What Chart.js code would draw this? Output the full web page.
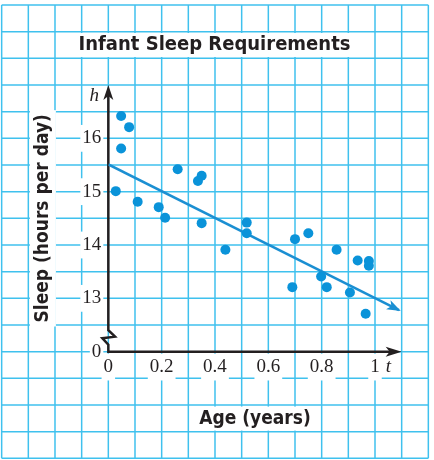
<!DOCTYPE html>
<html><head><meta charset="utf-8">
<script src="https://cdn.jsdelivr.net/npm/chart.js@4.4.1/dist/chart.umd.min.js"></script>
<style>html,body{margin:0;padding:0;background:#fff;overflow:hidden;} #wrap{width:434px;height:460px;position:relative;}</style>
</head><body><div id="wrap"><canvas id="c"></canvas></div>
<script>
// ---- data ----
const ageYears   = [0.048,0.078,0.048,0.260,0.350,0.336,0.028,0.110,0.189,0.213,0.350,0.519,0.519,0.439,0.700,0.750,0.856,0.935,0.977,0.977,0.798,0.819,0.690,0.906,0.965];
const sleepHours = [16.42,16.21,15.81,15.42,15.30,15.20,15.01,14.81,14.71,14.51,14.41,14.42,14.22,13.91,14.11,14.22,13.91,13.71,13.70,13.61,13.41,13.21,13.21,13.11,12.71];
const fitAge   = [0, 1.09];
const fitSleep = [15.51, 12.78];
const xTickValues = [0, 0.2, 0.4, 0.6, 0.8, 1];
const xTickLabels = ['0', '0.2', '0.4', '0.6', '0.8', '1'];
const yTickValues = [12, 13, 14, 15, 16];
const yTickLabels = ['0', '13', '14', '15', '16'];
const chartTitle = 'Infant Sleep Requirements';
const xTitle = 'Age (years)';
const yTitle = 'Sleep (hours per day)';
const xVar = 't', yVar = 'h';

// ---- styles ----
const INK = '#231f20';
const GRID = '#3fc1ee';
const DOT = '#0a93d9';
const FIT = '#1b8fd2';
const BOLD = "'Liberation Sans Narrow','DejaVu Sans Condensed','Arial Narrow',sans-serif";
const SERIF = "'Liberation Serif','DejaVu Serif',serif";

const scatterData = ageYears.map((a, i) => ({x: a, y: sleepHours[i]}));
const fitData = fitAge.map((a, i) => ({x: a, y: fitSleep[i]}));

function arrowHead(ctx, tx, ty, ang, len, hw, notch) {
  ctx.save();
  ctx.translate(tx, ty); ctx.rotate(ang);
  ctx.beginPath();
  ctx.moveTo(0, 0);
  ctx.lineTo(-len, -hw);
  ctx.lineTo(-len + notch, 0);
  ctx.lineTo(-len, hw);
  ctx.closePath();
  ctx.fill();
  ctx.restore();
}

const paper = {
  id: 'paper',
  beforeDraw(chart) {
    const {ctx} = chart;
    const xs = chart.scales.x, ys = chart.scales.y;
    ctx.save();
    ctx.fillStyle = '#fff';
    ctx.fillRect(0, 0, chart.width, chart.height);
    ctx.strokeStyle = GRID;
    ctx.lineWidth = 1.5;
    const top = ys.getPixelForValue(18.5), bot = ys.getPixelForValue(10);
    const left = xs.getPixelForValue(-0.4), right = xs.getPixelForValue(1.2);
    for (let k = -4; k <= 12; k++) {
      const px = xs.getPixelForValue(k / 10);
      ctx.beginPath(); ctx.moveTo(px, top); ctx.lineTo(px, bot); ctx.stroke();
    }
    for (let k = 20; k <= 37; k++) {
      const py = ys.getPixelForValue(k / 2);
      ctx.beginPath(); ctx.moveTo(left, py); ctx.lineTo(right, py); ctx.stroke();
    }
    // white backings behind titles
    ctx.fillStyle = '#fff';
    const t = chart.options.plugins.title;
    const tb = chart.titleBlock;
    ctx.font = 'bold ' + t.font.size + 'px ' + BOLD;
    let w = ctx.measureText(chartTitle).width;
    const tcx = (tb.left + tb.right) / 2;
    const tcy = tb.top + t.padding.top + t.font.size * t.font.lineHeight / 2;
    ctx.fillRect(tcx - w / 2 - 5, tcy - 12, w + 10, 24);
    const yt = chart.options.scales.y.title;
    ctx.font = 'bold ' + yt.font.size + 'px ' + BOLD;
    w = ctx.measureText(yTitle).width;
    const ycx = ys.left + yt.padding.top + yt.font.size * yt.font.lineHeight / 2;
    const ycy = (ys.top + ys.bottom) / 2;
    ctx.fillRect(ycx - 13, ycy - w / 2 - 4, 26, w + 8);
    const xt = chart.options.scales.x.title;
    ctx.font = 'bold ' + xt.font.size + 'px ' + BOLD;
    w = ctx.measureText(xTitle).width;
    const xcx = (xs.left + xs.right) / 2;
    const xcy = xs.bottom - xt.padding.bottom - xt.font.size * xt.font.lineHeight / 2;
    ctx.fillRect(xcx - w / 2 - 4, xcy - 12, w + 8, 24);
    ctx.restore();
  },
  beforeDatasetsDraw(chart) {
    const {ctx} = chart;
    const xs = chart.scales.x, ys = chart.scales.y;
    const x0 = xs.getPixelForValue(0), yb = ys.getPixelForValue(12);
    const yTop = ys.getPixelForValue(17), xEnd = xs.getPixelForValue(1.1);
    ctx.save();
    ctx.strokeStyle = INK; ctx.fillStyle = INK;
    ctx.lineWidth = 2.5; ctx.lineJoin = 'miter';
    ctx.beginPath();
    ctx.moveTo(x0, yTop + 8);
    ctx.lineTo(x0, yb - 21.5);
    ctx.lineTo(x0 + 6.7, yb - 15);
    ctx.lineTo(x0 - 6, yb - 13.5);
    ctx.lineTo(x0, yb - 7);
    ctx.lineTo(x0, yb);
    ctx.lineTo(xEnd - 8, yb);
    ctx.stroke();
    arrowHead(ctx, x0, yTop, -Math.PI / 2, 15, 5, 4);
    arrowHead(ctx, xEnd, yb, 0, 16, 5, 4);
    ctx.font = 'italic 19px ' + SERIF;
    ctx.textAlign = 'center'; ctx.textBaseline = 'middle';
    ctx.fillText(yVar, x0 - 14, yTop + 11);
    ctx.fillText(xVar, xs.getPixelForValue(1.05), yb + 15);
    ctx.restore();
  },
  afterDatasetsDraw(chart) {
    const meta = chart.getDatasetMeta(1);
    const pts = meta.data;
    const a = pts[pts.length - 2], b = pts[pts.length - 1];
    const ang = Math.atan2(b.y - a.y, b.x - a.x);
    chart.ctx.save();
    chart.ctx.fillStyle = FIT;
    arrowHead(chart.ctx, b.x + Math.cos(ang) * 2, b.y + Math.sin(ang) * 2, ang, 14, 5, 3.5);
    chart.ctx.restore();
  }
};

new Chart(document.getElementById('c'), {
  data: {
    datasets: [
      {type: 'scatter', data: scatterData, backgroundColor: DOT, borderWidth: 0, pointRadius: 5, pointHoverRadius: 5, order: 1},
      {type: 'line', data: fitData, borderColor: FIT, borderWidth: 2.5, pointRadius: 0, fill: false, tension: 0, order: 2}
    ]
  },
  options: {
    responsive: true, maintainAspectRatio: false, animation: false,
    layout: {padding: {left: 0, right: 5, top: 0, bottom: 0}},
    plugins: {
      legend: {display: false}, tooltip: {enabled: false},
      title: {display: true, text: chartTitle, color: INK,
        font: {family: BOLD, size: 20, weight: 'bold', lineHeight: 1.2},
        padding: {top: 33, bottom: 28}}
    },
    scales: {
      x: {type: 'linear', position: 'bottom', min: 0, max: 1.1,
        afterBuildTicks(s) { s.ticks = xTickValues.map(v => ({value: v})); },
        afterFit(s) { s.height = 108.33; },
        grid: {display: false, drawTicks: false}, border: {display: false},
        ticks: {color: INK, padding: 4, maxRotation: 0, autoSkip: false,
          font: {family: SERIF, size: 19, lineHeight: 1.2},
          callback: (v) => { const i = xTickValues.indexOf(v); return i >= 0 ? xTickLabels[i] : ''; },
          showLabelBackdrop: true, backdropColor: '#fff', backdropPadding: 2},
        title: {display: true, text: xTitle, color: INK,
          font: {family: BOLD, size: 19, weight: 'bold', lineHeight: 1.2},
          padding: {top: 0, bottom: 30}}
      },
      y: {type: 'linear', position: 'left', min: 12, max: 17,
        afterBuildTicks(s) { s.ticks = yTickValues.map(v => ({value: v})); },
        afterFit(s) { s.width = 108.33; },
        grid: {display: false, drawTicks: false}, border: {display: false},
        ticks: {color: INK, padding: 7, autoSkip: false,
          font: {family: SERIF, size: 19, lineHeight: 1.2},
          callback: (v) => { const i = yTickValues.indexOf(v); return i >= 0 ? yTickLabels[i] : ''; },
          showLabelBackdrop: true, backdropColor: '#fff', backdropPadding: 2},
        title: {display: true, text: yTitle, color: INK,
          font: {family: BOLD, size: 19, weight: 'bold', lineHeight: 1.2},
          padding: {top: 31.5, bottom: 0}}
      },
      r: {type: 'linear', position: 'right', display: true,
        afterFit(s) { s.width = 27.33; },
        grid: {display: false, drawTicks: false}, border: {display: false},
        ticks: {display: false}}
    }
  },
  plugins: [paper]
});
</script></body></html>
